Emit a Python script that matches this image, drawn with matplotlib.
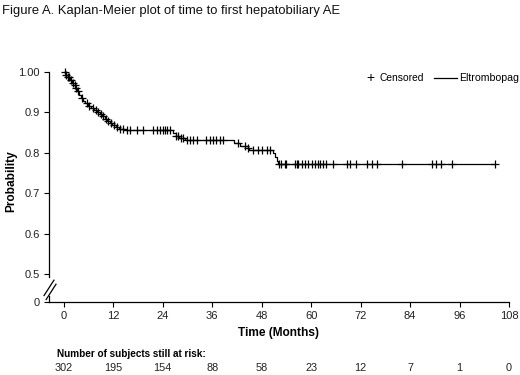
import matplotlib
matplotlib.use("Agg")
import matplotlib.pyplot as plt
import matplotlib.transforms as mtransforms
import numpy as np

plt.rcParams['font.family'] = ['Liberation Sans', 'DejaVu Sans']

# Kaplan-Meier step curve (time in months, survival probability)
event_times = [0, 0.5, 1.0, 1.4, 1.9, 2.3, 2.8, 3.2, 3.6, 4.1, 4.6, 5.2, 5.9, 6.6,
               7.3, 8.0, 8.7, 9.3, 9.9, 10.5, 11.1, 11.8, 12.6, 13.5, 14.8,
               26.6, 27.2, 28.0, 29.4, 41.2, 42.8, 44.6, 45.0, 50.7, 51.2, 51.6, 52.0]
survival = [1.0, 0.993, 0.987, 0.98, 0.973, 0.967, 0.96, 0.953, 0.943, 0.936, 0.929,
            0.923, 0.917, 0.912, 0.906, 0.90, 0.897, 0.89, 0.884, 0.878, 0.873, 0.868,
            0.864, 0.86, 0.857, 0.849, 0.842, 0.837, 0.832, 0.825, 0.818, 0.811,
            0.807, 0.800, 0.790, 0.781, 0.773]
end_time = 104.6

censor_times = [0.2, 0.6, 1.0, 1.3, 1.7, 2.2, 2.6, 3.0, 3.4, 4.5, 5.5, 6.2, 7.0, 7.7,
                8.4, 9.1, 9.6, 10.2, 10.8, 11.5, 12.2, 13.0,
                13.6, 14.3, 15.3, 16.0, 17.7, 19.2, 21.6, 22.6, 23.3, 24.0, 24.5, 25.0, 25.7,
                27.3, 27.8, 28.5, 29.0,
                29.8, 30.6, 31.4, 32.2, 34.6, 35.4, 36.2, 37.0, 37.9, 38.7,
                42.3, 43.9, 44.7, 46.0, 47.2, 48.0, 49.2, 50.0,
                52.2, 52.8, 53.6, 54.0, 56.1, 56.5, 56.9, 57.7, 58.5, 59.3, 60.1, 60.9,
                61.7, 62.1, 62.9, 63.7, 65.4, 68.6, 69.4, 71.0, 73.5, 74.7, 75.9, 82.0,
                89.2, 90.4, 91.6, 94.2, 104.6]

x_ticks = [0, 12, 24, 36, 48, 60, 72, 84, 96, 108]
y_ticks = [0.5, 0.6, 0.7, 0.8, 0.9, 1.0]
y_tick_labels = ["0.5", "0.6", "0.7", "0.8", "0.9", "1.00"]
at_risk = [302, 195, 154, 88, 58, 23, 12, 7, 1, 0]

W, H = 520, 375
fig = plt.figure(figsize=(W / 100, H / 100), dpi=100)

def fx(px):
    return px / W

def fy(py):
    return 1 - py / H

ax = fig.add_axes([fx(49), fy(302), fx(509) - fx(49), fy(72) - fy(302)])
XMIN, XMAX = -3.6, 108
YMIN, YMAX = 0.431, 1.0
ax.set_xlim(XMIN, XMAX)
ax.set_ylim(YMIN, YMAX)

# step curve
st = list(event_times) + [end_time]
sv = list(survival) + [survival[-1]]
ax.step(st, sv, where='post', color='black', lw=0.9, clip_on=False, zorder=3)

# censor marks
ev = np.array(event_times)
sa = np.array(survival)
cy = [sa[np.searchsorted(ev, t, side='right') - 1] for t in censor_times]
ax.plot(censor_times, cy, linestyle='none', marker='+', color='black',
        markersize=6, markeredgewidth=0.9, clip_on=False, zorder=4)

# spines
for s in ['top', 'right', 'left']:
    ax.spines[s].set_visible(False)
ax.spines['bottom'].set_linewidth(0.9)
ax.plot([XMIN, XMIN], [0.492, YMAX], color='black', lw=0.9, clip_on=False)
ax.plot([XMIN, XMIN], [YMIN, 0.447], color='black', lw=0.9, clip_on=False)
# break marks
ax.plot([-4.8, -2.4], [0.447, 0.485], color='black', lw=0.9, clip_on=False)
ax.plot([-4.3, -1.9], [0.437, 0.475], color='black', lw=0.9, clip_on=False)

ax.set_xticks(x_ticks)
ax.set_xticklabels([str(v) for v in x_ticks], fontsize=8)
ax.set_yticks(y_ticks + [YMIN])
ax.set_yticklabels(y_tick_labels + ["0"], fontsize=8)
ax.tick_params(axis='both', length=3.5, width=0.8, pad=3, colors='black',
               labelcolor='#222222')

ax.set_xlabel("Time (Months)", fontsize=8.6, fontweight='bold', labelpad=4)

fig.text(fx(11), fy(181), "Probability", fontsize=8.6, fontweight='bold',
         rotation=90, ha='center', va='center')

# title
fig.text(fx(2), fy(11), "Figure A. Kaplan-Meier plot of time to first hepatobiliary AE",
         fontsize=9.4, ha='left', va='center', color='#111111')

# legend
fig.text(fx(370), fy(78), "+", fontsize=10, ha='center', va='center')
fig.text(fx(379), fy(78), "Censored", fontsize=7.4, ha='left', va='center')
fig.lines.append(plt.Line2D([fx(434), fx(457)], [fy(77.5), fy(77.5)],
                            transform=fig.transFigure, color='black', lw=0.9))
fig.text(fx(459), fy(78), "Eltrombopag", fontsize=7.6, ha='left', va='center')

# number at risk
fig.text(fx(57), fy(354), "Number of subjects still at risk:", fontsize=7.2,
         fontweight='bold', ha='left', va='center')
tr = mtransforms.blended_transform_factory(ax.transData, fig.transFigure)
for t, n in zip(x_ticks, at_risk):
    ax.text(t, fy(368), str(n), transform=tr, fontsize=7.8,
            ha='center', va='center', color='#222222')

fig.savefig("out.png", dpi=100)
